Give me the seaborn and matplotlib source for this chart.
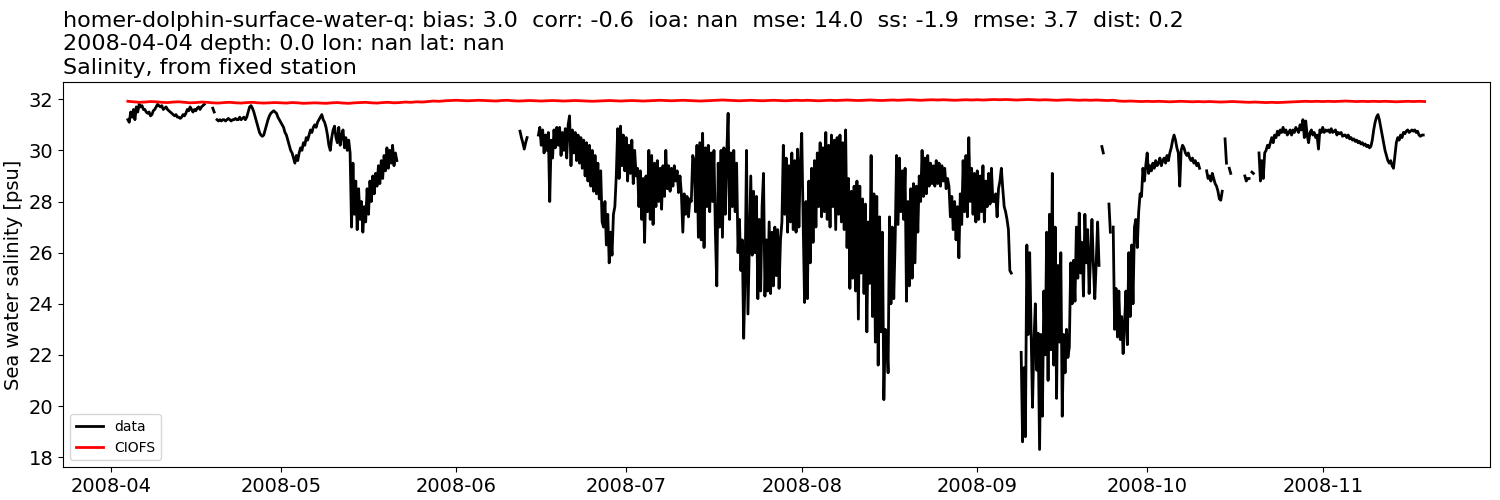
# SALINITY TIME SERIES | station data vs CIOFS model
# ----------------------------------------------------------------------------------------------------------------


# INITIATION ------------

import numpy as np
import pandas as pd
import matplotlib
matplotlib.use('Agg')
import matplotlib.pyplot as plt
import matplotlib.dates as mdates
from matplotlib.lines import Line2D
import seaborn as sns

nan = np.nan


# DATA ------------------

# Observed salinity [psu], 6-hourly (00, 06, 12, 18 h), one row per day
obs_apr = [  # from 2008-04-04
    31.2, 31.1, 31.5, 31.3,
    31.6, 31.2, 31.7, 31.5,
    31.8, 31.7, 31.75, 31.6,
    31.6, 31.5, 31.45, 31.5,
    31.35, 31.4, 31.55, 31.6,
    31.7, 31.8, 31.75, 31.7,
    31.75, 31.6, 31.65, 31.7,
    31.6, 31.55, 31.5, 31.45,
    31.4, 31.35, 31.4, 31.3,
    31.3, 31.25, 31.3, 31.4,
    31.35, 31.45, 31.6, 31.55,
    31.7, 31.6, 31.5, 31.6,
    31.55, 31.65, 31.7, 31.6,
    31.7, 31.75, 31.8, nan,
    nan, nan, nan, nan,
    31.65, 31.5, nan, 31.2,
    31.15, 31.2, 31.15, 31.2,
    31.2, 31.15, 31.2, 31.25,
    31.2, 31.15, 31.2, 31.2,
    31.25, 31.2, 31.2, 31.3,
    31.2, 31.25, 31.3, 31.2,
    31.3, 31.5, 31.7, 31.75,
    31.65, 31.5, 31.3, 31.1,
    30.9, 30.7, 30.6, 30.55,
    30.6, 30.8, 31.0, 31.2,
    31.35, 31.45, 31.5, 31.55,
    31.5, 31.45, 31.3, 31.2,
]
obs_may = [
    31.1, 31.0, 30.9, 30.7,
    30.6, 30.4, 30.2, 30.0,
    29.9, 29.7, 29.5, 29.8,
    29.6, 29.9, 30.1, 30.0,
    30.3, 30.2, 30.5, 30.4,
    30.6, 30.8, 30.7, 30.9,
    31.0, 30.9, 31.1, 31.2,
    31.3, 31.4, 31.2, 31.1,
    30.9, 30.6, 30.2, 30.0,
    30.5, 30.8, 30.95, 30.5,
    30.3, 30.9, 30.2, 30.6,
    30.8, 30.1, 30.5, 30.0,
    30.4, 29.9, 27.0, 29.5,
    27.5, 28.8, 26.9, 28.5,
    27.3, 28.0, 26.8, 27.8,
    27.2, 28.5, 27.5, 28.8,
    28.0, 29.0, 28.3, 29.1,
    28.6, 29.4, 28.7, 29.6,
    28.9, 29.8, 29.2, 30.1,
    29.3, 30.0, 29.5, 30.2,
    29.4, 29.9, 29.6, nan,
] + [nan] * 40
obs_jun = [nan] * 44 + [
    nan, 30.75, 30.5, 30.3,
    30.05, 30.3, 30.5, nan,
    nan, nan, nan, nan,
    nan, nan, 30.6, 30.9,
    30.2, 30.8, 29.9, 30.6,
    30.0, 30.7, 28.0, 30.4,
    29.7, 30.8, 30.1, 30.9,
    30.2, 30.9, 29.8, 30.7,
    30.0, 30.85, 29.7, 31.0,
    31.35, 29.4, 30.8, 29.9,
    30.7, 29.6, 30.6, 29.5,
    30.5, 29.3, 30.4, 29.0,
    30.3, 28.8, 30.2, 28.6,
    30.0, 28.4, 29.8, 28.3,
    29.5, 28.1, 29.2, 27.2,
    27.0, 28.0, 26.3, 27.5,
    25.6, 26.8, 25.9, 27.5,
    27.8, 29.0, 30.85, 28.9,
    30.95, 29.4, 30.6, 29.2,
]
obs_jul = [
    30.5, 28.8, 30.2, 29.1,
    30.4, 28.7, 30.0, 29.0,
    29.3, 27.8, 29.2, 27.3,
    28.9, 26.4, 29.0, 27.6,
    30.0, 27.3, 29.8, 27.1,
    29.5, 27.8, 29.6, 28.0,
    29.3, 27.7, 29.4, 28.2,
    30.0, 28.5, 29.4, 28.4,
    29.3, 28.6, 29.4, 28.8,
    29.2, 28.35, 29.0, 28.3,
    26.8, 28.3, 27.5, 28.2,
    27.4, 28.1, 28.0, 29.8,
    29.6, 27.6, 30.2, 26.6,
    30.3, 26.5, 30.67, 26.2,
    30.1, 27.8, 30.2, 27.6,
    29.9, 28.0, 30.0, 26.8,
    24.7, 29.5, 27.0, 30.0,
    26.6, 30.1, 27.5, 29.8,
    31.45, 27.3, 29.9, 27.8,
    30.0, 27.6, 29.5, 26.0,
    27.3, 25.3, 26.5, 22.65,
    25.2, 30.0, 23.6, 26.4,
    29.0, 25.9, 28.4, 26.0,
    28.2, 24.2, 27.3, 24.5,
    27.8, 29.1, 24.3, 26.5,
    24.5, 27.2, 24.4, 26.8,
    24.7, 27.0, 25.1, 26.9,
    24.6, 26.5, 27.2, 30.2,
    27.5, 29.7, 26.8, 29.4,
    27.2, 29.9, 26.9, 29.6,
    26.8, 30.05, 27.0, 29.5,
]
obs_aug = [
    30.67, 27.2, 24.05, 28.0,
    24.2, 28.8, 25.6, 29.3,
    26.4, 29.6, 27.0, 29.9,
    27.8, 30.3, 27.4, 30.1,
    27.6, 30.7, 27.3, 30.2,
    27.0, 30.6, 27.8, 30.4,
    26.9, 30.5, 27.5, 30.6,
    27.2, 30.3, 26.9, 30.8,
    26.2, 28.9, 24.6, 28.4,
    25.0, 28.6, 24.5, 28.8,
    23.4, 28.6, 25.2, 28.1,
    24.4, 27.9, 22.9, 27.2,
    24.8, 29.8, 23.5, 28.3,
    22.5, 28.2, 21.6, 27.4,
    22.9, 26.8, 20.25, 23.0,
    22.8, 21.3, 27.4, 24.0,
    27.0, 24.2, 26.5, 29.8,
    27.1, 29.7, 27.6, 29.2,
    27.3, 29.3, 24.1, 28.0,
    24.7, 28.5, 25.0, 28.7,
    25.6, 28.6, 26.8, 29.0,
    28.0, 30.0, 28.2, 29.7,
    28.3, 29.8, 28.6, 29.5,
    28.7, 29.4, 28.6, 29.6,
    28.7, 29.5, 28.6, 29.4,
    28.8, 29.3, 28.5, 28.9,
    28.6, 27.4, 28.2, 26.9,
    28.0, 26.5, 27.8, 25.8,
    28.3, 27.1, 29.6, 27.6,
    29.8, 27.4, 30.5, 28.0,
    29.3, 27.5, 29.1, 27.2,
]
obs_sep = [
    29.2, 27.3, 29.0, 27.6,
    29.4, 27.2, 28.8, 27.8,
    29.1, 27.9, 29.3, 28.0,
    28.0, 28.3, 27.4, 28.5,
    28.8, 29.3, 28.5, 27.8,
    27.6, 27.3, 26.9, 25.3,
    25.2, nan, nan, nan,
    nan, nan, nan, 22.1,
    18.6, 21.5, 18.8, 26.3,
    22.8, 26.0, 23.0, 19.95,
    22.5, 24.0, 21.4, 22.85,
    18.3, 22.8, 19.6, 24.5,
    22.0, 26.8, 21.0, 27.5,
    22.2, 29.1, 21.6, 27.0,
    20.3, 25.5, 22.5, 26.0,
    19.6, 22.8, 21.3, 23.0,
    21.9, 22.3, 25.6, 24.0,
    25.7, 24.1, 27.0, 25.0,
    27.55, 25.2, 26.4, 24.3,
    27.5, 25.6, 26.9, 24.4,
    25.8, 27.3, 25.5, 24.2,
    25.6, 27.2, 25.5, nan,
    30.15, 29.9, nan, nan,
    nan, 27.9, 26.8, nan,
    27.0, 23.0, 24.6, 22.7,
    24.5, 22.6, 23.5, 22.05,
    23.2, 24.5, 22.4, 26.0,
    23.5, 26.3, 24.0, 27.0,
    27.3, 26.2, 27.6, 28.3,
    28.2, 29.3, 28.8, 29.4,
]
obs_oct = [
    29.9, 29.1, 29.4, 29.2,
    29.5, 29.3, 29.6, 29.4,
    29.5, 29.7, 29.4, 29.6,
    29.7, 29.5, 29.8, 29.6,
    29.9, 30.1, 30.4, 30.6,
    30.4, 30.1, 29.9, 28.6,
    30.0, 30.2, 30.1, 29.9,
    29.8, 29.9, 29.7, 29.6,
    29.7, 29.5, 29.6, 29.4,
    29.5, 29.3, nan, nan,
    nan, nan, 29.2, 28.9,
    29.0, 28.8, 29.1, 28.9,
    28.7, 28.6, 28.4, 28.1,
    28.05, 28.4, nan, 30.45,
    29.5, nan, 29.3, 29.1,
    nan, nan, nan, nan,
    nan, nan, nan, nan,
    nan, 29.0, 28.8, 28.9,
    28.9, nan, 29.15, 29.1,
    nan, nan, nan, 29.9,
    28.8, 29.6, 28.9, 29.9,
    30.0, 30.2, 30.1, 30.3,
    30.5, 30.3, 30.6, 30.5,
    30.75, 30.6, 30.8, 30.7,
    30.9, 30.7, 30.8, 30.6,
    30.7, 30.8, 30.6, 30.8,
    30.7, 30.9, 30.8, 30.7,
    31.0, 30.8, 31.2, 30.5,
    31.15, 30.6, 30.3, 30.7,
    30.8, 30.6, 30.7, 30.5,
    30.6, 30.05, 30.8, 30.7,
]
obs_nov = [
    30.9, 30.7, 30.8, 30.75,
    30.8, 30.7, 30.85, 30.7,
    30.75, 30.8, 30.6, 30.7,
    30.65, 30.7, 30.55, 30.6,
    30.6, 30.5, 30.6, 30.45,
    30.5, 30.4, 30.45, 30.35,
    30.4, 30.3, 30.35, 30.25,
    30.3, 30.2, 30.25, 30.15,
    30.2, 30.1, 30.15, 30.4,
    30.8, 31.1, 31.3, 31.4,
    31.2, 30.9, 30.6, 30.3,
    30.0, 29.8, 29.6, 29.5,
    29.6, 29.4, 29.3, 29.8,
    30.3, 30.5, 30.4, 30.6,
    30.5, 30.7, 30.65, 30.75,
    30.8, 30.7, 30.75, 30.8,
    30.75, 30.8, 30.7, 30.75,
    30.6, 30.55, 30.6, 30.6,
]

# CIOFS model salinity [psu], daily
ciofs_apr = [  # from 2008-04-04
    31.92, 31.90, 31.88, 31.89, 31.91, 31.90, 31.88, 31.87, 31.89, 31.90,
    31.88, 31.86, 31.87, 31.89, 31.88, 31.86, 31.85, 31.87, 31.88, 31.86,
    31.85, 31.87, 31.88, 31.86, 31.85, 31.86, 31.87,
]
ciofs_may = [
    31.86, 31.85, 31.87, 31.86, 31.84, 31.85, 31.86, 31.85, 31.84, 31.86,
    31.87, 31.85, 31.84, 31.86, 31.87, 31.88, 31.86, 31.85, 31.87, 31.88,
    31.86, 31.87, 31.89, 31.88, 31.90, 31.89, 31.91, 31.93, 31.92, 31.94,
    31.95,
]
ciofs_jun = [
    31.96, 31.95, 31.94, 31.95, 31.96, 31.95, 31.94, 31.93, 31.95, 31.96,
    31.94, 31.93, 31.94, 31.95, 31.94, 31.93, 31.94, 31.95, 31.94, 31.93,
    31.94, 31.95, 31.94, 31.93, 31.92, 31.93, 31.94, 31.95, 31.94, 31.93,
]
ciofs_jul = [
    31.94, 31.95, 31.94, 31.93, 31.94, 31.95, 31.96, 31.95, 31.94, 31.95,
    31.96, 31.95, 31.94, 31.93, 31.94, 31.95, 31.96, 31.97, 31.96, 31.95,
    31.94, 31.95, 31.96, 31.95, 31.94, 31.95, 31.96, 31.95, 31.94, 31.95,
    31.96,
]
ciofs_aug = [
    31.95, 31.96, 31.95, 31.94, 31.95, 31.96, 31.95, 31.96, 31.97, 31.96,
    31.95, 31.96, 31.97, 31.96, 31.95, 31.96, 31.97, 31.96, 31.97, 31.98,
    31.97, 31.96, 31.97, 31.98, 31.97, 31.98, 31.97, 31.96, 31.97, 31.98,
    31.97,
]
ciofs_sep = [
    31.98, 31.97, 31.98, 31.99, 31.98, 31.99, 31.98, 31.97, 31.98, 31.99,
    31.98, 31.97, 31.98, 31.97, 31.96, 31.97, 31.98, 31.97, 31.96, 31.97,
    31.96, 31.97, 31.96, 31.95, 31.96, 31.93, 31.92, 31.93, 31.92, 31.91,
]
ciofs_oct = [
    31.92, 31.91, 31.92, 31.91, 31.90, 31.91, 31.92, 31.91, 31.90, 31.91,
    31.90, 31.91, 31.90, 31.89, 31.90, 31.91, 31.90, 31.89, 31.88, 31.89,
    31.88, 31.87, 31.88, 31.87, 31.88, 31.89, 31.90, 31.91, 31.92, 31.91,
    31.92,
]
ciofs_nov = [
    31.91, 31.92, 31.91, 31.92, 31.93, 31.92, 31.91, 31.92, 31.91, 31.92,
    31.91, 31.92, 31.91, 31.90, 31.91, 31.92, 31.91, 31.92, 31.91,
]

month_starts = ['2008-04-04', '2008-05-01', '2008-06-01', '2008-07-01',
                '2008-08-01', '2008-09-01', '2008-10-01', '2008-11-01']
obs_months = [obs_apr, obs_may, obs_jun, obs_jul, obs_aug, obs_sep, obs_oct, obs_nov]
ciofs_months = [ciofs_apr, ciofs_may, ciofs_jun, ciofs_jul, ciofs_aug, ciofs_sep, ciofs_oct, ciofs_nov]

title_lines = [
    'homer-dolphin-surface-water-q: bias: 3.0  corr: -0.6  ioa: nan  mse: 14.0  ss: -1.9  rmse: 3.7  dist: 0.2',
    '2008-04-04 depth: 0.0 lon: nan lat: nan',
    'Salinity, from fixed station',
]


# EXECUTION -------------

def build_frame(starts, months, freq):
    parts = []
    for start, vals in zip(starts, months):
        parts.append(pd.DataFrame({
            'time': pd.date_range(start, periods=len(vals), freq=freq),
            'salinity': vals,
        }))
    return pd.concat(parts, ignore_index=True)


obs = build_frame(month_starts, obs_months, '6h')
# split the record at gaps so that they stay empty
obs['seg'] = obs['salinity'].isna().cumsum()
obs = obs.dropna()

ciofs = build_frame(month_starts, ciofs_months, '1D')

fig, ax = plt.subplots(figsize=(15, 5), dpi=100)

sns.lineplot(data=obs, x='time', y='salinity', units='seg', estimator=None,
             color='black', linewidth=2, ax=ax, legend=False)
sns.lineplot(data=ciofs, x='time', y='salinity', color='red', linewidth=2,
             ax=ax, legend=False)

ax.xaxis.set_major_locator(mdates.MonthLocator())
ax.xaxis.set_major_formatter(mdates.DateFormatter('%Y-%m'))
ax.tick_params(labelsize=14)
ax.set_xlabel('')
ax.set_ylabel('Sea water salinity [psu]', fontsize=14)
ax.set_title('\n'.join(title_lines), loc='left', fontsize=16)

handles = [Line2D([], [], color='black', linewidth=2),
           Line2D([], [], color='red', linewidth=2)]
ax.legend(handles, ['data', 'CIOFS'], loc='lower left', fontsize=10)

fig.subplots_adjust(left=0.042, right=0.993, top=0.836, bottom=0.066)
fig.savefig('out.png')
